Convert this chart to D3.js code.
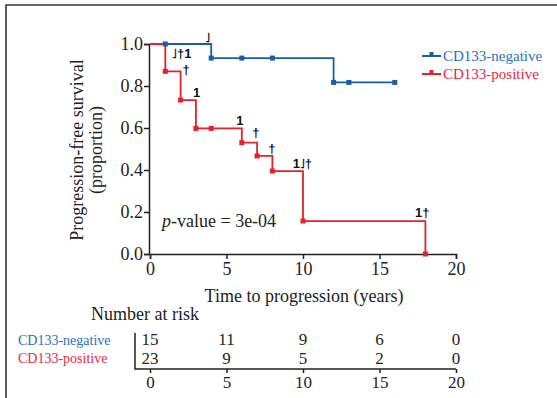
<!DOCTYPE html>
<html><head><meta charset="utf-8">
<script src="https://cdn.jsdelivr.net/npm/d3@7"></script>
<style>body{margin:0;background:#fff}svg{display:block}</style>
</head><body><svg id="c" width="557" height="398"></svg>
<script>
const seriesNames = ["CD133-negative", "CD133-positive"];
const negSteps = [[0,1],[4,0.933],[12,0.817],[16,0.817]];
const negMarks = [[1,1],[4,0.933],[6,0.933],[8,0.933],[12,0.817],[13,0.817],[16,0.817]];
const posSteps = [[0,1],[1,0.870],[2,0.733],[3,0.598],[6,0.530],[7,0.467],[8,0.395],[10,0.157],[18,0.157],[18,0]];
const posMarks = [[1,0.870],[2,0.733],[3,0.598],[4,0.598],[6,0.530],[7,0.467],[8,0.395],[10,0.157],[18,0]];
const glyphNotes = [[3.77,1.033,"˩"],[2.07,0.957,"˩†1"],[2.36,0.881,"†"],[3.05,0.771,"1"],[5.87,0.638,"1"],[6.92,0.581,"†"],[7.96,0.505,"†"],[9.96,0.429,"1˩†"],[17.79,0.2,"1†"]];
const xTicks = [0,5,10,15,20];
const yTicks = [0,0.2,0.4,0.6,0.8,1.0];
const riskTimes = [0,5,10,15,20];
const riskNeg = [15,11,9,6,0];
const riskPos = [23,9,5,2,0];
const pText = "= 3e-04";

const blue = "#1a5ca8", red = "#e8202a", blueTxt = "#2b6fbe", redTxt = "#e8283a";
const svg = d3.select("#c");
const serif = "'Liberation Serif', 'Times New Roman', serif";

// frame
svg.append("path").attr("d","M6,398V5H557").attr("fill","none").attr("stroke","#333").attr("stroke-width",1.6);

const x = d3.scaleLinear().domain([0,20]).range([150,456]);
const y = d3.scaleLinear().domain([0,1]).range([254,44]);

// axes
const gx = svg.append("g").attr("transform","translate(0,254)").call(d3.axisBottom(x).tickValues(xTicks).tickSize(5).tickPadding(3).tickFormat(d3.format("d")));
const gy = svg.append("g").attr("transform","translate(149,0)").call(d3.axisLeft(y).tickValues(yTicks).tickSize(5).tickPadding(1).tickFormat(d3.format(".1f")));
[gx,gy].forEach(g=>{
  g.select(".domain").attr("stroke","#222").attr("stroke-width",1.5);
  g.selectAll(".tick line").attr("stroke","#222").attr("stroke-width",1.5);
  g.selectAll("text").attr("font-family",serif).attr("font-size",18).attr("fill","#222");
});

// curves
const line = d3.line().x(d=>x(d[0])).y(d=>y(d[1])).curve(d3.curveStepAfter);
svg.append("path").datum(negSteps).attr("d",line).attr("fill","none").attr("stroke",blue).attr("stroke-width",1.8);
svg.append("path").datum(posSteps).attr("d",line).attr("fill","none").attr("stroke",red).attr("stroke-width",1.8);
const ms = 5;
svg.selectAll("rect.mn").data(negMarks).join("rect").attr("class","mn").attr("x",d=>x(d[0])-ms/2).attr("y",d=>y(d[1])-ms/2).attr("width",ms).attr("height",ms).attr("fill",blue);
svg.selectAll("rect.mp").data(posMarks).join("rect").attr("class","mp").attr("x",d=>x(d[0])-ms/2).attr("y",d=>y(d[1])-ms/2).attr("width",ms).attr("height",ms).attr("fill",red);

// glyph notes
svg.selectAll("text.gn").data(glyphNotes).join("text").attr("class","gn").attr("x",d=>x(d[0])).attr("y",d=>y(d[1])).attr("dy","0.35em")
  .attr("text-anchor","middle").attr("font-family","'Liberation Sans', Arial, sans-serif").attr("font-weight","bold").attr("font-size",13).attr("fill","#111").text(d=>d[2]);

// p-value
const pt = svg.append("text").attr("x",162).attr("y",227).attr("font-family",serif).attr("font-size",18).attr("fill","#222");
pt.append("tspan").attr("font-style","italic").text("p");
pt.append("tspan").text("-value " + pText);

// axis titles
svg.append("text").attr("x",x(10)+1).attr("y",302).attr("text-anchor","middle").attr("font-family",serif).attr("font-size",18).attr("fill","#222").text("Time to progression (years)");
const yt = svg.append("text").attr("transform","translate(83,150) rotate(-90)").attr("text-anchor","middle").attr("font-family",serif).attr("font-size",18).attr("fill","#222");
yt.append("tspan").attr("x",0).attr("dy",0).text("Progression-free survival");
yt.append("tspan").attr("x",0).attr("dy",19).text("(proportion)");

// legend
const leg = [[seriesNames[0],blue,blueTxt,56],[seriesNames[1],red,redTxt,74]];
leg.forEach(([name,c,tc,ly])=>{
  svg.append("line").attr("x1",422).attr("x2",441).attr("y1",ly).attr("y2",ly).attr("stroke",c).attr("stroke-width",2);
  svg.append("rect").attr("x",429.5).attr("y",ly-4).attr("width",4).attr("height",4).attr("fill",c);
  svg.append("text").attr("x",443).attr("y",ly+5).attr("font-family",serif).attr("font-size",15).attr("fill",tc).text(name);
});

// risk table
svg.append("text").attr("x",91).attr("y",320).attr("font-family",serif).attr("font-size",18).attr("fill","#222").text("Number at risk");
svg.append("text").attr("x",18).attr("y",345).attr("font-family",serif).attr("font-size",14).attr("fill",blueTxt).text(seriesNames[0]);
svg.append("text").attr("x",18).attr("y",363).attr("font-family",serif).attr("font-size",14).attr("fill",redTxt).text(seriesNames[1]);
const gr = svg.append("g").attr("transform","translate(0,369)").call(d3.axisBottom(x).tickValues(xTicks).tickSize(4).tickPadding(3).tickFormat(d3.format("d")));
gr.select(".domain").remove();
gr.selectAll(".tick line").attr("stroke","#222").attr("stroke-width",1.5);
gr.selectAll("text").attr("font-family",serif).attr("font-size",17).attr("fill","#222");
svg.append("path").attr("d",`M135,333V369H${x(20)}`).attr("fill","none").attr("stroke","#222").attr("stroke-width",1.5);
svg.selectAll("text.rn").data(riskNeg).join("text").attr("class","rn").attr("x",(d,i)=>x(riskTimes[i])).attr("y",345).attr("text-anchor","middle").attr("font-family",serif).attr("font-size",17).attr("fill","#222").text(d=>d);
svg.selectAll("text.rp").data(riskPos).join("text").attr("class","rp").attr("x",(d,i)=>x(riskTimes[i])).attr("y",364).attr("text-anchor","middle").attr("font-family",serif).attr("font-size",17).attr("fill","#222").text(d=>d);
</script></body></html>
